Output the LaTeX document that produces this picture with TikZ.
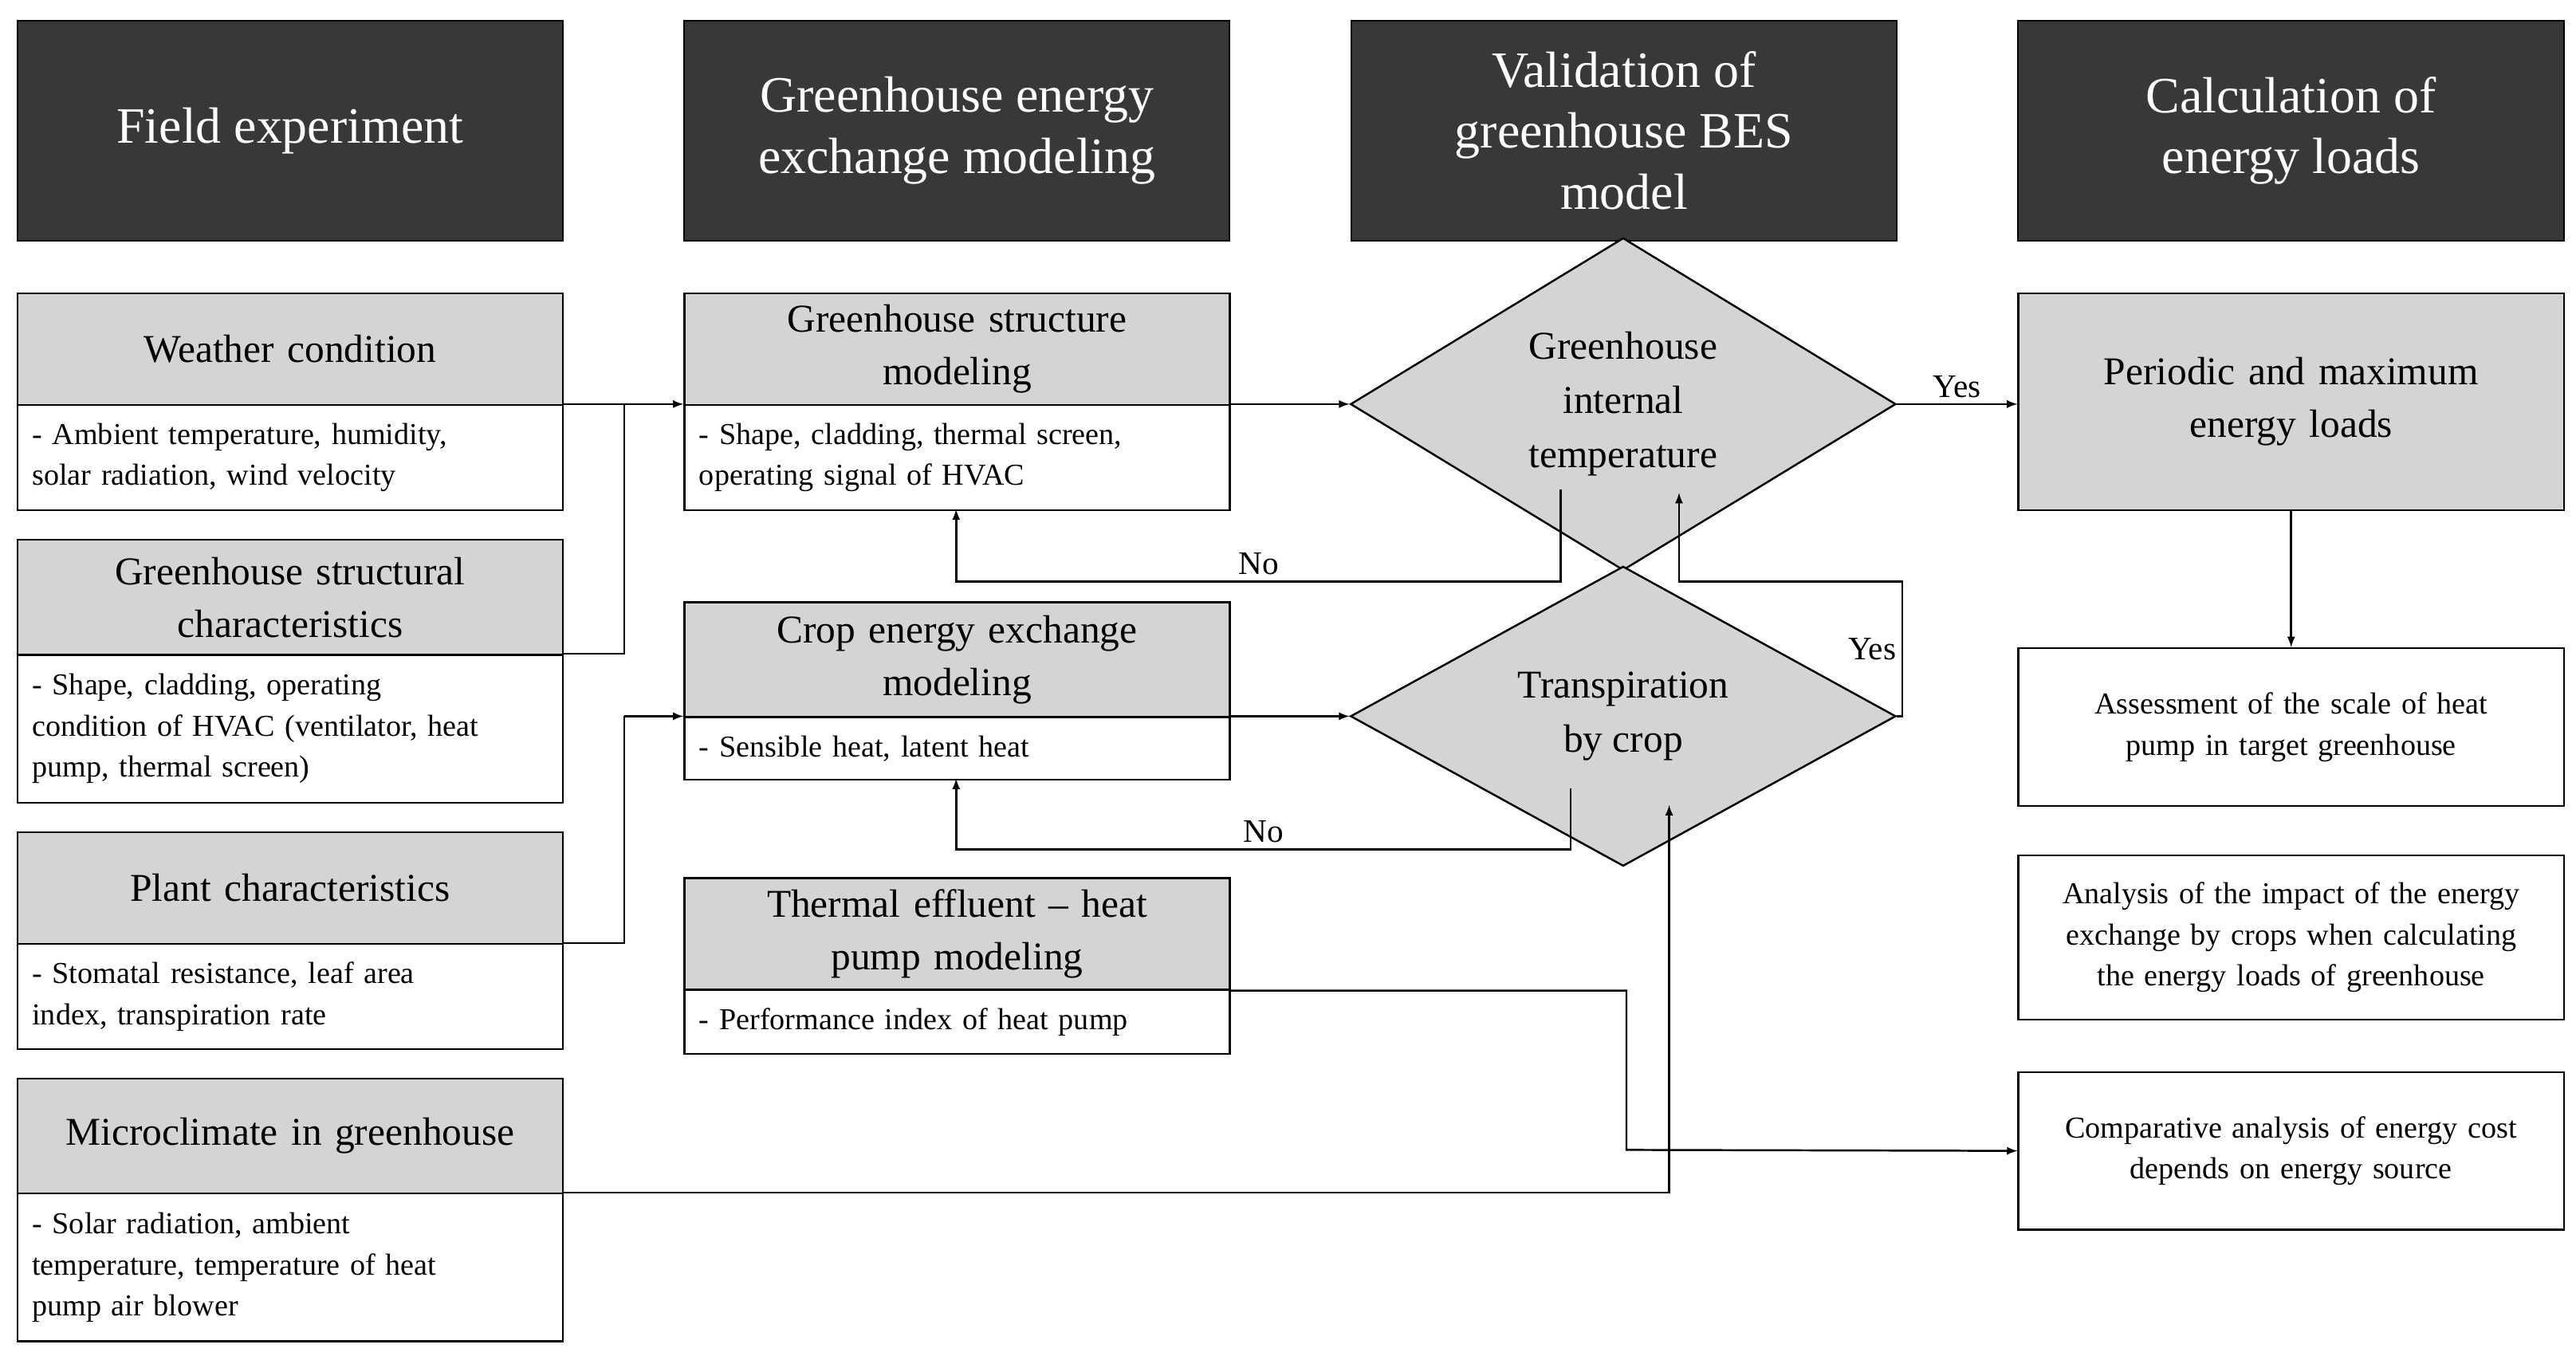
\documentclass[tikz,border=0pt]{standalone}
\usepackage{fontspec}
\setmainfont{Liberation Serif}
\usetikzlibrary{shapes.geometric}
\begin{document}
\begin{tikzpicture}[x=1pt,y=-1pt,
 hdr/.style={anchor=north west,draw=black,fill=black!78,text=white,minimum width=332pt,minimum height=134pt,inner sep=0pt,align=center,font=\fontsize{31}{37}\selectfont,line width=1pt},
 ttl/.style={anchor=north west,draw=black,fill=black!17,minimum width=332pt,inner sep=0pt,align=center,text width=320pt,font=\fontsize{24}{32}\selectfont,line width=1.2pt},
 bdy/.style={anchor=north west,draw=black,fill=white,minimum width=332pt,inner sep=0pt,align=left,text width=314pt,font=\fontsize{18.5}{25}\selectfont,line width=1.2pt},
 wb/.style={anchor=north west,draw=black,fill=white,minimum width=332pt,inner sep=0pt,align=center,text width=310pt,font=\fontsize{18.5}{25}\selectfont,line width=1.2pt},
 dia/.style={diamond,draw=black,fill=black!17,minimum width=332pt,minimum height=132pt,inner sep=0pt,align=center,font=\fontsize{24}{33}\selectfont,line width=1.2pt},
 ar/.style={-latex,line width=1.2pt},
 ln/.style={line width=1.2pt},
 lb/.style={font=\fontsize{20}{24}\selectfont}]
\useasboundingbox (0,0) rectangle (1568,830);
\fill[white] (0,0) rectangle (1568,830);
% headers
\node[hdr] (h1) at (10,12) {Field experiment};
\node[hdr] (h2) at (416,12) {Greenhouse energy\\exchange modeling};
\node[hdr] (h3) at (822,12) {Validation of\\greenhouse BES\\model};
\node[hdr] (h4) at (1228,12) {Calculation of\\energy loads};
% column 1
\node[ttl,minimum height=68pt] (w) at (10,178) {Weather condition};
\node[bdy,minimum height=64pt] (wb) at (10,246) {- Ambient temperature, humidity,\\solar radiation, wind velocity};
\node[ttl,minimum height=70pt] (s) at (10,328) {Greenhouse structural\\characteristics};
\node[bdy,minimum height=90pt] (sb) at (10,398) {- Shape, cladding, operating\\condition of HVAC (ventilator, heat\\pump, thermal screen)};
\node[ttl,minimum height=68pt] (p) at (10,506) {Plant characteristics};
\node[bdy,minimum height=64pt] (pb) at (10,574) {- Stomatal resistance, leaf area\\index, transpiration rate};
\node[ttl,minimum height=70pt] (m) at (10,656) {Microclimate in greenhouse};
\node[bdy,minimum height=90pt] (mb) at (10,726) {- Solar radiation, ambient\\temperature, temperature of heat\\pump air blower};
% column 2
\node[ttl,minimum height=68pt] (g) at (416,178) {Greenhouse structure\\modeling};
\node[bdy,minimum height=64pt] (gb) at (416,246) {- Shape, cladding, thermal screen,\\operating signal of HVAC};
\node[ttl,minimum height=70pt] (c) at (416,366) {Crop energy exchange\\modeling};
\node[bdy,minimum height=38pt] (cb) at (416,436) {- Sensible heat, latent heat};
\node[ttl,minimum height=68pt] (t) at (416,534) {Thermal effluent -- heat\\pump modeling};
\node[bdy,minimum height=39pt] (tb) at (416,602) {- Performance index of heat pump};
% diamonds
\node[dia] (d1) at (988,246) {Greenhouse\\internal\\temperature};
\node[dia] (d2) at (988,436) {Transpiration\\by crop};
% column 4
\node[ttl,minimum height=132pt] (pe) at (1228,178) {Periodic and maximum\\energy loads};
\node[wb,minimum height=96pt] (as) at (1228,394) {Assessment of the scale of heat\\pump in target greenhouse};
\node[wb,minimum height=100pt] (an) at (1228,520) {Analysis of the impact of the energy\\exchange by crops when calculating\\the energy loads of greenhouse};
\node[wb,minimum height=96pt] (co) at (1228,652) {Comparative analysis of energy cost\\depends on energy source};
% connectors col1 -> col2
\coordinate (j1) at (380,246);
\draw[ar] (342,246) -- (g.west |- 0,246);
\draw[ln] (j1) -- (380,398) -- (342,398);
\draw[ln] (pb.north east) -- (380,574) -- (380,436);
\draw[ar] (380,436) -- (cb.north west);
% col2 -> diamonds
\draw[ar] (gb.north east) -- (d1.west);
\draw[ar] (cb.north east) -- (d2.west);
% diamond 1
\draw[ar] (d1.east) -- node[lb,above]{Yes} (1228,246);
\draw[ar] (950,298) -- (950,354) -- node[lb,above]{No} (582,354) -- (582,310);
% diamond 2
\draw[ar] (d2.east) -- (1158,436) -- node[lb,left,pos=0.5]{Yes} (1158,354) -- (1022,354) -- (1022,300);
\draw[ar] (956,480) -- (956,517) -- node[lb,above]{No} (582,517) -- (582,474);
% thermal, microclimate
\draw[ar] (748,603) -- (990,603) -- (990,700) -- (co.west);
\draw[ar] (mb.north east) -- (1016,726) -- (1016,490);
% periodic -> assessment
\draw[ar] (pe.south) -- (as.north);
\end{tikzpicture}
\end{document}
